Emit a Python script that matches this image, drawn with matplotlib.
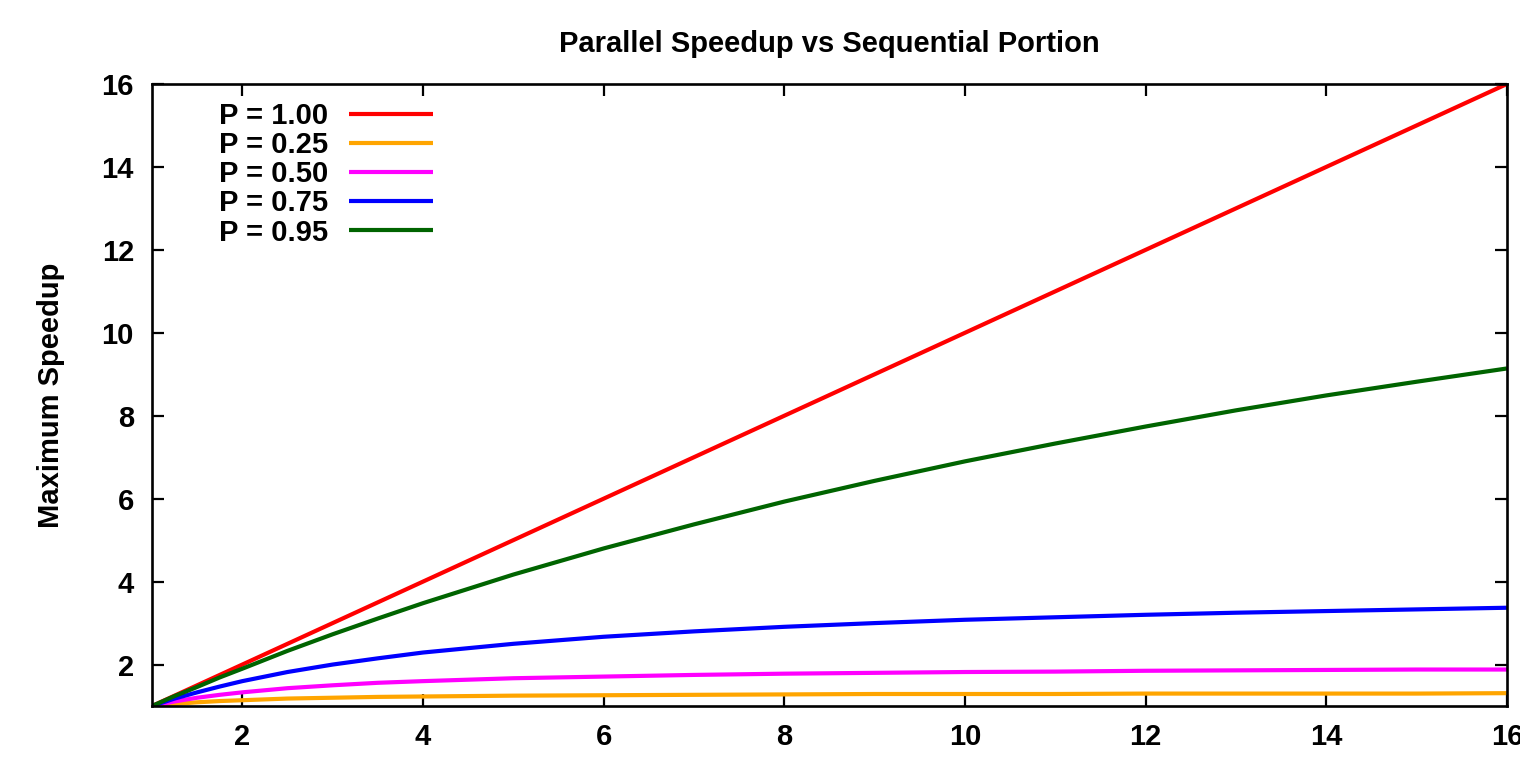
import matplotlib
matplotlib.use("Agg")
import matplotlib.pyplot as plt

plt.rcParams['font.family'] = ['Liberation Sans', 'DejaVu Sans']
plt.rcParams['font.weight'] = 'bold'

# Processor counts (x) and maximum speedup
n_procs = [1, 1.25, 1.5, 1.75, 2, 2.5, 3, 3.5, 4, 5, 6, 7, 8, 9, 10, 11, 12, 13, 14, 15, 16]
speed_p100 = [1.00, 1.25, 1.50, 1.75, 2.00, 2.50, 3.00, 3.50, 4.00, 5.00, 6.00, 7.00, 8.00, 9.00, 10.00, 11.00, 12.00, 13.00, 14.00, 15.00, 16.00]
speed_p025 = [1.00, 1.05, 1.09, 1.12, 1.14, 1.18, 1.20, 1.22, 1.23, 1.25, 1.26, 1.27, 1.28, 1.29, 1.29, 1.29, 1.30, 1.30, 1.30, 1.30, 1.31]
speed_p050 = [1.00, 1.11, 1.20, 1.27, 1.33, 1.43, 1.50, 1.56, 1.60, 1.67, 1.71, 1.75, 1.78, 1.80, 1.82, 1.83, 1.85, 1.86, 1.87, 1.88, 1.88]
speed_p075 = [1.00, 1.18, 1.33, 1.47, 1.60, 1.82, 2.00, 2.15, 2.29, 2.50, 2.67, 2.80, 2.91, 3.00, 3.08, 3.14, 3.20, 3.25, 3.29, 3.33, 3.37]
speed_p095 = [1.00, 1.24, 1.46, 1.69, 1.90, 2.33, 2.73, 3.11, 3.48, 4.17, 4.80, 5.38, 5.93, 6.43, 6.90, 7.33, 7.74, 8.13, 8.49, 8.82, 9.14]

labels = ["P = 1.00", "P = 0.25", "P = 0.50", "P = 0.75", "P = 0.95"]
colors = ["#ff0000", "#ffa500", "#ff00ff", "#0000ff", "#006400"]
series = [speed_p100, speed_p025, speed_p050, speed_p075, speed_p095]

xticks = [2, 4, 6, 8, 10, 12, 14, 16]
yticks = [2, 4, 6, 8, 10, 12, 14, 16]

fig = plt.figure(figsize=(15.2, 7.67), dpi=100)
ax = fig.add_axes([0.1, 0.0795, 0.8914, 0.811])

for ys, lab, c in zip(series, labels, colors):
    ax.plot(n_procs, ys, color=c, lw=3.0, label=lab, solid_capstyle='butt')

ax.set_xlim(1, 16)
ax.set_ylim(1, 16)
ax.set_xticks(xticks)
ax.set_yticks(yticks)
ax.tick_params(direction='in', length=8.5, width=1.6, top=True, right=True,
               labelsize=21)
ax.tick_params(axis='x', pad=12)
ax.tick_params(axis='y', pad=13)
for lab in ax.get_xticklabels() + ax.get_yticklabels():
    lab.set_fontweight('bold')
for sp in ax.spines.values():
    sp.set_linewidth(1.9)

ax.set_title("Parallel Speedup vs Sequential Portion", fontsize=21, fontweight='bold', pad=23)
ax.set_ylabel("Maximum Speedup", fontsize=21, fontweight='bold', labelpad=26)

leg = ax.legend(loc='upper left', bbox_to_anchor=(0.041, 0.99), frameon=False,
                markerfirst=False, fontsize=21, handlelength=2.9, handletextpad=0.7,
                labelspacing=0.04, borderaxespad=0.0)
for t in leg.get_texts():
    t.set_fontweight('bold')
    t.set_ha('right')

fig.savefig("out.png", dpi=100)
